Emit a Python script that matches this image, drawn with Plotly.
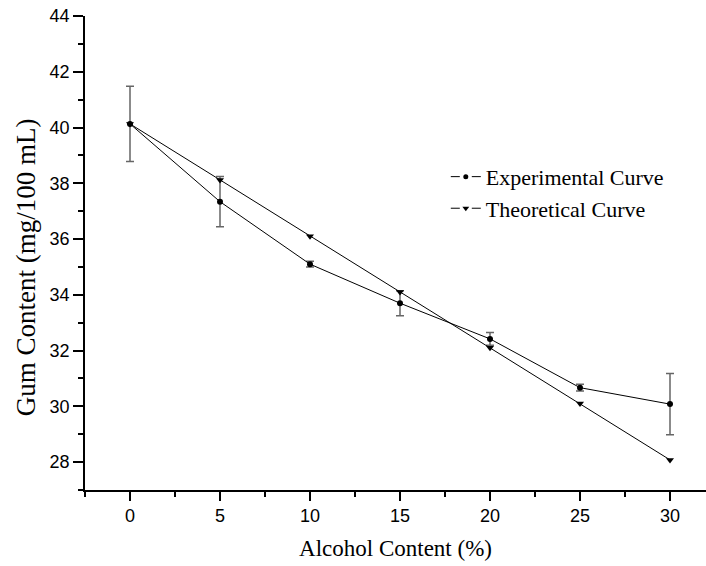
import plotly.graph_objects as go

alcohol = [0, 5, 10, 15, 20, 25, 30]
experimental = [40.13, 37.34, 35.1, 33.7, 32.42, 30.67, 30.08]
exp_error = [1.35, 0.9, 0.1, 0.45, 0.23, 0.12, 1.1]
theoretical = [40.13, 38.12, 36.1, 34.1, 32.1, 30.1, 28.08]
series_names = ["Experimental Curve", "Theoretical Curve"]

fig = go.Figure()
fig.add_trace(go.Scatter(
    x=alcohol, y=experimental, name=series_names[0],
    mode="lines+markers", showlegend=False,
    line=dict(color="black", width=1),
    marker=dict(symbol="circle", size=6, color="black"),
    error_y=dict(type="data", array=exp_error, visible=True,
                 color="#666666", thickness=1.5, width=4),
))
fig.add_trace(go.Scatter(
    x=alcohol, y=theoretical, name=series_names[1],
    mode="lines+markers", showlegend=False,
    line=dict(color="black", width=1),
    marker=dict(symbol="triangle-down", size=7, color="black"),
))
# legend entries (line - marker - line look)
for name, sym, sz in [(series_names[0], "circle", 5), (series_names[1], "triangle-down", 6)]:
    fig.add_trace(go.Scatter(
        x=[None], y=[None], name=name, mode="lines+markers",
        line=dict(color="black", width=1, dash="9px,12px"),
        marker=dict(symbol=sym, size=sz, color="black"),
    ))

fig.update_layout(
    width=706, height=566,
    margin=dict(l=85, r=0, t=16, b=76),
    paper_bgcolor="white", plot_bgcolor="white",
    showlegend=True,
    legend=dict(x=0.581, y=0.705, xanchor="left", yanchor="top",
                font=dict(family="Liberation Serif", size=22, color="black"),
                bgcolor="rgba(0,0,0,0)", tracegroupgap=0),
    font=dict(family="Liberation Sans", color="black"),
    annotations=[dict(
        text="Gum Content (mg/100 mL)", textangle=-90,
        xref="paper", yref="paper", x=-0.095, y=0.47,
        xanchor="center", yanchor="middle", showarrow=False,
        font=dict(family="Liberation Serif", size=27, color="black"),
    )],
)
fig.update_xaxes(
    range=[-2.5, 32], tick0=0, dtick=5,
    showgrid=False, zeroline=False,
    showline=True, linecolor="black", linewidth=1.5,
    ticks="outside", ticklen=9, tickwidth=1.5, tickcolor="black",
    tickfont=dict(family="Liberation Sans", size=18, color="black"),
    minor=dict(dtick=2.5, tick0=0, ticks="outside", ticklen=5, tickwidth=1.5, tickcolor="black"),
    title=dict(text="Alcohol Content (%)", standoff=15,
               font=dict(family="Liberation Serif", size=23, color="black")),
)
fig.update_yaxes(
    range=[27, 44], tick0=28, dtick=2,
    showgrid=False, zeroline=False,
    showline=True, linecolor="black", linewidth=1.5,
    ticks="outside", ticklen=10, tickwidth=1.5, tickcolor="black",
    tickfont=dict(family="Liberation Sans", size=18, color="black"),
    minor=dict(dtick=1, tick0=27, ticks="outside", ticklen=5, tickwidth=1.5, tickcolor="black"),
)

fig.write_html("out.html")
